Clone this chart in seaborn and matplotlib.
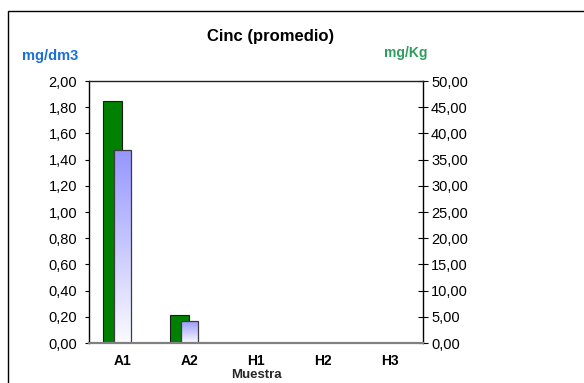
import numpy as np
import pandas as pd
import matplotlib
matplotlib.use("Agg")
import matplotlib.pyplot as plt
import seaborn as sns
from matplotlib.patches import Rectangle
from matplotlib.colors import LinearSegmentedColormap
from matplotlib.ticker import MultipleLocator, FuncFormatter

# Zinc averages per sample: water (mg/dm3, left axis) and soil/solid (mg/Kg, right axis)
muestras = ["A1", "A2", "H1", "H2", "H3"]
cinc_mg_dm3 = [1.47, 0.17, np.nan, np.nan, np.nan]
cinc_mg_kg = [46.2, 5.35, np.nan, np.nan, np.nan]
series = ["mg/Kg", "mg/dm3"]

sns.set_theme(style="white")
plt.rcParams["font.family"] = ["Liberation Sans", "DejaVu Sans"]

df = pd.DataFrame({"Muestra": muestras, "mg/dm3": cinc_mg_dm3, "mg/Kg": cinc_mg_kg})
# long table so the mg/Kg bars take the first slot of each sample group
long_df = pd.concat([
    pd.DataFrame({"Muestra": muestras, "serie": "mg/Kg", "valor": cinc_mg_kg}),
    pd.DataFrame({"Muestra": muestras, "serie": "mg/dm3", "valor": [np.nan] * len(muestras)}),
], ignore_index=True)

fig = plt.figure(figsize=(5.84, 3.83), dpi=100)
ax = fig.add_axes([0.1524, 0.1044, 0.5719, 0.6841])
ax2 = ax.twinx()

# green bars on the secondary axis (mg/Kg)
sns.barplot(data=long_df, x="Muestra", y="valor", hue="serie", hue_order=series,
            order=muestras, palette={"mg/Kg": "#008000", "mg/dm3": "#9696ff"},
            width=0.57, dodge=True, saturation=1, errorbar=None, legend=False,
            edgecolor="#1a1a1a", linewidth=0.8, ax=ax2)

# blue gradient bars on the primary axis (mg/dm3)
sns.barplot(data=df, x="Muestra", y="mg/dm3", order=muestras, color="#9696ff",
            width=0.255, saturation=1, errorbar=None, edgecolor="#3c3c3c",
            linewidth=0.9, ax=ax)

ax.set_zorder(ax2.get_zorder() + 1)
ax.patch.set_visible(False)

cmap = LinearSegmentedColormap.from_list("azul", ["#fbfbff", "#c8c8ff", "#9696ff"])
grad = np.linspace(0, 1, 256).reshape(-1, 1)
for p in list(ax.patches):
    h = p.get_height()
    if not np.isfinite(h) or h <= 0:
        continue
    x0, w = p.get_x(), p.get_width()
    im = ax.imshow(grad, cmap=cmap, origin="lower", aspect="auto",
                   extent=[x0, x0 + w, p.get_y(), p.get_y() + h],
                   zorder=p.get_zorder(), interpolation="bilinear")
    im.set_clip_path(p)
    p.set_facecolor("none")
    p.set_zorder(p.get_zorder() + 0.1)

ax.set_xlim(-0.5, len(muestras) - 0.5)
ax.set_ylim(0, 2)
ax2.set_ylim(0, 50)

fmt = FuncFormatter(lambda v, _: f"{v:.2f}".replace(".", ","))
ax.yaxis.set_major_locator(MultipleLocator(0.2))
ax.yaxis.set_major_formatter(fmt)
ax2.yaxis.set_major_locator(MultipleLocator(5))
ax2.yaxis.set_major_formatter(fmt)

ax.set_ylabel("")
ax2.set_ylabel("")
ax.set_xlabel("Muestra", fontsize=9.5, fontweight="bold", labelpad=0.5)

ax.tick_params(axis="y", left=True, direction="out", length=3, width=0.8,
               color="black", pad=5.5, labelsize=10.5, labelcolor="black")
ax2.tick_params(axis="y", right=True, direction="inout", length=7.5, width=0.8,
                color="black", pad=2, labelsize=10.5, labelcolor="black")
ax.tick_params(axis="x", length=0, pad=8, labelsize=10, labelcolor="black")
for lbl in ax.get_xticklabels():
    lbl.set_fontweight("bold")

for side in ["top", "bottom", "left", "right"]:
    ax2.spines[side].set_visible(False)
ax2.spines["right"].set_visible(True)
ax2.spines["right"].set_color("black")
ax2.spines["right"].set_linewidth(1)
ax.spines["right"].set_visible(False)
ax.spines["left"].set_color("black")
ax.spines["left"].set_linewidth(1)
ax.spines["top"].set_color("#222222")
ax.spines["top"].set_linewidth(1)
ax.spines["bottom"].set_color("#808080")
ax.spines["bottom"].set_linewidth(1.6)

fig.text(271 / 584, 1 - 37 / 383, "Cinc (promedio)", ha="center", va="center",
         fontsize=12, fontweight="bold", color="black")
fig.text(50 / 584, 1 - 56 / 383, "mg/dm3", ha="center", va="center",
         fontsize=10.5, fontweight="bold", color="#1a6fd8")
fig.text(406 / 584, 1 - 53 / 383, "mg/Kg", ha="center", va="center",
         fontsize=10, fontweight="bold", color="#2e9c5e")

# chart area frame
fig.add_artist(Rectangle((8 / 584, -0.05), 1.0, 1 - 11 / 383 + 0.05,
                         transform=fig.transFigure, fill=False,
                         edgecolor="black", linewidth=1))

fig.savefig("out.png", dpi=100)
